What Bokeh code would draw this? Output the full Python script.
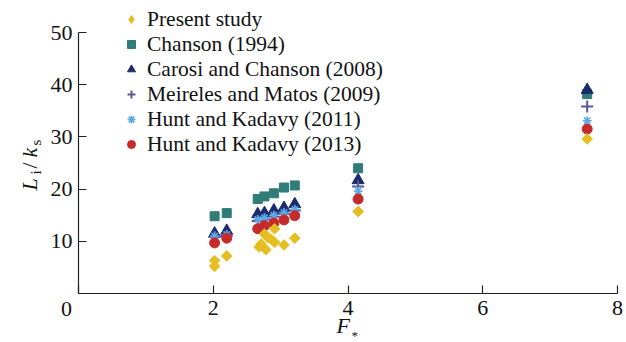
import math
from bokeh.plotting import figure
from bokeh.models import Range1d, FixedTicker, Label, Legend, LegendItem
from bokeh.embed import file_html
from bokeh.resources import INLINE

# ---------------- data ----------------
present_F = [2.02, 2.02, 2.20, 2.68, 2.71, 2.76, 2.78, 2.81, 2.86, 2.91, 2.91, 3.05, 3.21, 4.15, 7.55]
present_L = [6.3, 5.2, 7.2, 8.9, 9.5, 11.4, 8.4, 10.7, 10.4, 12.4, 9.8, 9.3, 10.6, 15.7, 29.6]

lit_F = [2.02, 2.20, 2.66, 2.76, 2.90, 3.05, 3.21, 4.15, 7.55]
chanson_1994 = [14.8, 15.4, 18.1, 18.6, 19.2, 20.3, 20.7, 24.0, 38.2]
carosi_2008 = [11.5, 12.0, 15.2, 15.4, 15.9, 16.4, 17.1, 21.7, 39.0]
meireles_2009 = [10.8, 11.0, 13.9, 14.2, 14.7, 15.3, 15.9, 20.5, 35.8]
hunt_2011 = [11.0, 11.3, 14.2, 14.5, 15.0, 15.5, 16.1, 19.6, 33.1]
hunt_2013 = [9.7, 10.6, 12.4, 13.0, 13.5, 14.1, 14.9, 18.1, 31.5]

labels = ["Present study", "Chanson (1994)", "Carosi and Chanson (2008)",
          "Meireles and Matos (2009)", "Hunt and Kadavy (2011)", "Hunt and Kadavy (2013)"]
x_ticks = [0, 2, 4, 6, 8]
y_ticks = [0, 10, 20, 30, 40, 50]

# ---------------- geometry (pixels of the 626x342 canvas) ----------------
SERIF = "Liberation Serif"
W, H = 626, 342
X0_PX, X8_PX = 78, 617      # where F*=0 and F*=8 sit
Y0_PX, Y50_PX = 293, 32     # where L=0 and L=50 sit
sx = (X8_PX - X0_PX) / 8.0
sy = (Y0_PX - Y50_PX) / 50.0

def dx(px):
    return (px - X0_PX) / sx

def dy(py):
    return (Y0_PX - py) / sy

p = figure(width=W, height=H, output_backend="svg", toolbar_location=None,
           x_range=Range1d(dx(0), dx(W)), y_range=Range1d(dy(H), dy(0)),
           min_border_left=0, min_border_right=0, min_border_top=0, min_border_bottom=0)
p.outline_line_color = None
p.grid.visible = False
p.background_fill_color = "white"
p.border_fill_color = "white"

xa = p.xaxis[0]
ya = p.yaxis[0]
for ax, ticks, bnd in ((xa, x_ticks, (0, 8)), (ya, y_ticks, (0, 50))):
    ax.fixed_location = 0
    ax.bounds = bnd
    ax.ticker = FixedTicker(ticks=ticks)
    ax.minor_tick_line_color = None
    ax.major_tick_in = 8
    ax.major_tick_out = 0
    ax.axis_line_color = "#222222"
    ax.major_tick_line_color = "#222222"
    ax.axis_line_width = 1.2
    ax.major_tick_line_width = 1.2
    ax.major_label_text_font = SERIF
    ax.major_label_text_font_style = "normal"
    ax.major_label_text_font_size = "22px"
    ax.major_label_text_color = "#111111"
    ax.major_label_overrides = {0: ""}
xa.major_label_standoff = 7
ya.major_label_standoff = 6

# ---------------- series ----------------
r_sq = p.scatter(lit_F, chanson_1994, marker="square", size=9,
                 fill_color="#2F7C78", line_color="#2F7C78")
r_tri = p.scatter(lit_F, carosi_2008, marker="triangle", size=12,
                  fill_color="#1C2A6E", line_color="#1C2A6E")
r_plus = p.scatter(lit_F, meireles_2009, marker="cross", size=12,
                   line_color="#59599A", line_width=2)
r_ast = p.scatter(lit_F, hunt_2011, marker="asterisk", size=9,
                  line_color="#5AAAE6", line_width=1.6)
r_cir = p.scatter(lit_F, hunt_2013, marker="circle", size=10,
                  fill_color="#C62B2B", line_color="#C62B2B")
r_dia = p.scatter(present_F, present_L, marker="square", angle=math.pi / 4, size=7.5,
                  fill_color="#E5BE1F", line_color="#E5BE1F")
# legend swatch for the present study (diamond symbol, no data point)
r_dia_key = p.scatter([float("nan")], [float("nan")], marker="diamond", size=10,
                      fill_color="#E5BE1F", line_color="#E5BE1F")

legend_bottom_px = 156.5
legend = Legend(items=[
    LegendItem(label=labels[0], renderers=[r_dia_key]),
    LegendItem(label=labels[1], renderers=[r_sq]),
    LegendItem(label=labels[2], renderers=[r_tri]),
    LegendItem(label=labels[3], renderers=[r_plus]),
    LegendItem(label=labels[4], renderers=[r_ast]),
    LegendItem(label=labels[5], renderers=[r_cir]),
], location=(121, H - legend_bottom_px))
legend.label_text_font = SERIF
legend.label_text_font_size = "21.5px"
legend.label_text_color = "#111111"
legend.glyph_width = 20
legend.glyph_height = 20
legend.label_height = 18
legend.label_standoff = 6
legend.spacing = 0
legend.padding = 0
legend.margin = 0
legend.border_line_color = None
legend.background_fill_alpha = 0
p.add_layout(legend)

# ---------------- axis titles & origin label ----------------
p.add_layout(Label(x=dx(66), y=dy(308), text="0", text_font=SERIF,
                   text_font_size="22px", text_color="#111111",
                   text_align="center", text_baseline="middle"))

p.add_layout(Label(x=dx(336), y=dy(325), text="F", text_font=SERIF,
                   text_font_style="italic", text_font_size="22px", text_color="#111111",
                   text_align="left", text_baseline="alphabetic"))
p.add_layout(Label(x=dx(351), y=dy(335), text="*", text_font=SERIF,
                   text_font_size="13px", text_color="#111111",
                   text_align="left", text_baseline="alphabetic"))

ylab = [("L", 29, 190, "italic", "22px"),
        ("i", 35.5, 174, "normal", "15px"),
        ("/", 29, 168, "normal", "22px"),
        ("k", 29, 157, "italic", "22px"),
        ("s", 35.5, 145, "normal", "15px")]
for t, bx, by, style, size in ylab:
    p.add_layout(Label(x=dx(bx), y=dy(by), text=t, angle=math.pi / 2,
                       text_font=SERIF, text_font_style=style,
                       text_font_size=size, text_color="#111111",
                       text_align="left", text_baseline="alphabetic"))

open("out.html", "w").write(file_html(p, INLINE))
